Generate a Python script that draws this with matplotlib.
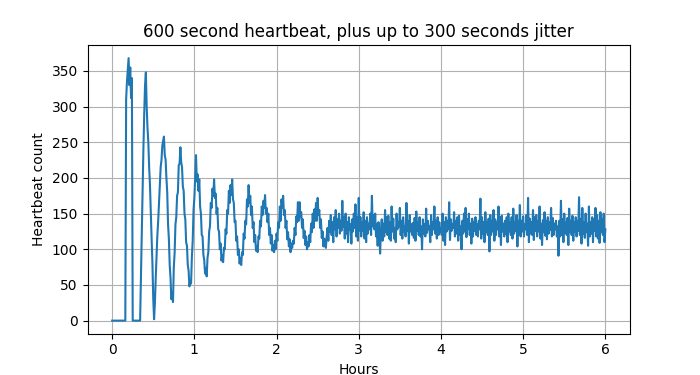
import numpy as np
import matplotlib
matplotlib.use("Agg")
from matplotlib import pyplot as plt

# one reading every 0.01 h (36 s)
sample_step = 0.01

# 0.00 - 0.59 h : nothing, first burst, gap, second burst
startup = [0, 0, 0, 0, 0, 0, 0, 0, 0, 0,
           0, 0, 0, 0, 0, 0, 0, 310, 335, 352,
           368, 330, 355, 312, 340, 0, 0, 0, 0, 0,
           0, 0, 0, 0, 0, 60, 125, 185, 240, 290,
           330, 348, 300, 270, 250, 215, 190, 150, 115, 80,
           30, 2, 25, 60, 90, 120, 140, 165, 190, 215]

# 0.60 - 2.59 h : damped ringing
ringing = [225, 245, 252, 258, 232, 226, 200, 180, 135, 115,
           78, 60, 30, 40, 26, 75, 95, 135, 145, 175,
           180, 218, 220, 243, 222, 215, 188, 182, 150, 142,
           110, 105, 78, 70, 48, 55, 52, 90, 112, 155,
           172, 200, 232, 195, 205, 182, 198, 160, 150, 120,
           118, 92, 85, 66, 74, 62, 88, 96, 125, 132,
           165, 158, 185, 175, 198, 172, 178, 150, 158, 128,
           125, 100, 108, 84, 92, 82, 102, 100, 128, 122,
           155, 150, 182, 165, 190, 176, 198, 170, 165, 138,
           140, 112, 118, 92, 100, 80, 88, 78, 96, 92,
           122, 115, 140, 135, 170, 160, 190, 165, 175, 148,
           160, 130, 138, 110, 120, 98, 104, 96, 118, 115,
           140, 132, 160, 148, 168, 158, 176, 150, 158, 138,
           150, 120, 130, 108, 120, 98, 106, 96, 112, 100,
           122, 112, 138, 130, 160, 140, 170, 158, 175, 148,
           155, 130, 140, 114, 124, 104, 114, 96, 108, 102,
           112, 108, 130, 120, 146, 138, 166, 140, 166, 145,
           152, 130, 142, 116, 126, 106, 118, 100, 110, 104,
           120, 110, 136, 124, 150, 130, 156, 140, 165, 140,
           172, 148, 155, 130, 142, 116, 125, 104, 115, 108]

# 2.60 - 6.00 h : settled, jitter only
steady = [102, 118, 130, 112, 140, 125, 148, 120, 138, 110,
          145, 128, 155, 118, 142, 130, 150, 122, 140, 126,
          168, 132, 145, 115, 150, 122, 138, 110, 145, 128,
          135, 108, 142, 125, 150, 130, 163, 118, 145, 112,
          172, 126, 145, 118, 138, 126, 152, 115, 140, 110,
          145, 122, 136, 128, 150, 120, 175, 132, 148, 128,
          150, 118, 135, 105, 138, 120, 94, 128, 142, 112,
          136, 118, 155, 124, 145, 120, 147, 115, 138, 112,
          160, 125, 143, 115, 130, 110, 150, 128, 138, 132,
          158, 120, 140, 115, 145, 124, 132, 118, 165, 126,
          140, 108, 148, 125, 135, 120, 137, 116, 144, 112,
          153, 126, 138, 120, 145, 118, 132, 100, 142, 122,
          135, 118, 157, 123, 140, 128, 132, 110, 148, 120,
          138, 128, 160, 122, 140, 115, 145, 120, 138, 124,
          130, 120, 150, 112, 138, 106, 145, 125, 140, 128,
          166, 113, 142, 126, 135, 130, 152, 118, 140, 122,
          145, 112, 147, 120, 132, 100, 140, 122, 150, 125,
          158, 117, 142, 128, 150, 120, 136, 108, 143, 118,
          138, 126, 145, 120, 135, 118, 140, 128, 171, 115,
          145, 122, 138, 110, 152, 124, 138, 120, 143, 97,
          148, 120, 140, 125, 155, 112, 142, 120, 138, 128,
          160, 118, 145, 106, 147, 125, 136, 118, 140, 122,
          145, 110, 150, 125, 138, 120, 145, 115, 157, 122,
          138, 126, 148, 104, 140, 120, 162, 118, 140, 125,
          146, 118, 135, 128, 148, 120, 172, 110, 143, 122,
          138, 120, 155, 113, 145, 126, 148, 118, 140, 125,
          160, 115, 136, 106, 141, 124, 152, 119, 140, 114,
          145, 122, 138, 127, 158, 118, 144, 120, 136, 128,
          140, 118, 132, 91, 140, 118, 168, 120, 142, 110,
          150, 123, 138, 120, 144, 106, 157, 124, 140, 120,
          147, 112, 138, 125, 145, 118, 140, 126, 173, 120,
          142, 108, 158, 122, 138, 116, 150, 124, 136, 105,
          160, 118, 138, 122, 145, 110, 142, 126, 158, 118,
          148, 115, 140, 109, 152, 124, 142, 120, 150, 110,
          128]

counts = np.array(startup + ringing + steady)
hours = np.arange(len(counts)) * sample_step

fig = plt.figure(figsize=(7, 3.75), dpi=100)
plt.plot(hours, counts, color="tab:blue")
plt.title("600 second heartbeat, plus up to 300 seconds jitter")
plt.xlabel("Hours")
plt.ylabel("Heartbeat count")
plt.grid(True)

fig.savefig("out.png")
